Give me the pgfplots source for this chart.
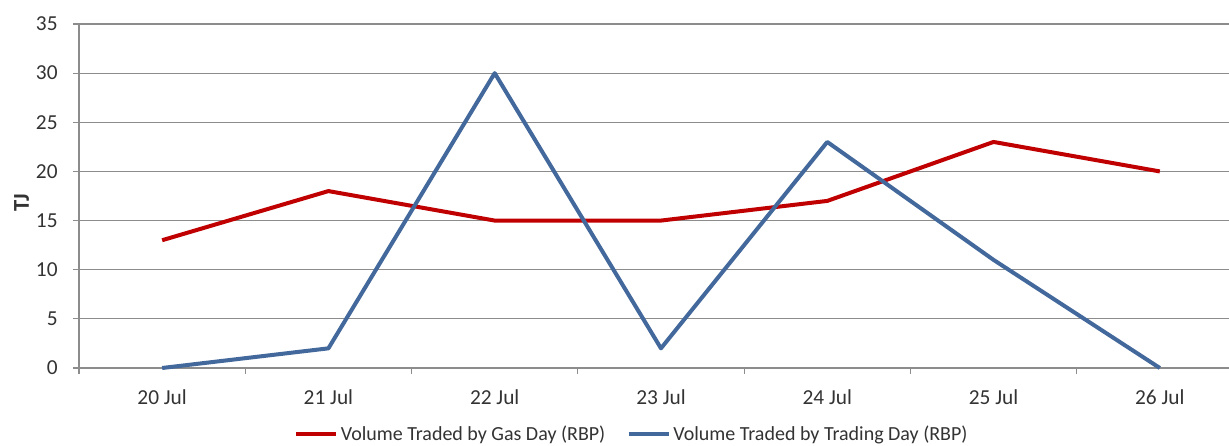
\documentclass[border=0pt]{standalone}
\usepackage{pgfplots}
\pgfplotsset{compat=1.18}
\usepackage{fontspec}
\setmainfont{Carlito}
\definecolor{gasred}{RGB}{192,0,0}
\definecolor{tradeblue}{RGB}{66,104,156}
\definecolor{gridgray}{RGB}{140,140,140}
\begin{document}
\begin{tikzpicture}[x=0.75pt,y=0.75pt]
\begin{axis}[
    at={(0,0)}, anchor=south west,
    scale only axis,
    width=862.5pt, height=258pt,
    xmin=-0.5, xmax=6.416,
    ymin=0, ymax=35,
    ytick={0,5,...,35},
    xtick={0,...,6},
    xticklabels={20 Jul,21 Jul,22 Jul,23 Jul,24 Jul,25 Jul,26 Jul},
    minor xtick={-0.5,0.5,...,5.5},
    axis x line*=bottom, axis y line*=left,
    axis line style={gridgray, line width=0.8pt, -},
    ymajorgrids, major grid style={gridgray, line width=0.8pt},
    major x tick style={draw=none},
    minor x tick style={gridgray, line width=0.8pt},
    major y tick style={gridgray, line width=0.8pt},
    tick align=outside, major tick length=4.5pt, minor tick length=4.5pt,
    ticklabel style={font=\fontsize{16}{18}\selectfont, text=black!80},
    xticklabel style={yshift=-8pt},
    yticklabel style={xshift=-8pt},
    /pgf/number format/assume math mode=true,
    ylabel={\textbf{TJ}},
    ylabel style={font=\fontsize{17}{19}\selectfont, text=black!80, at={(axis description cs:0,0.48)}, anchor=center, yshift=43pt},
    legend style={at={(0.481,-0.192)}, anchor=center, legend columns=2, draw=none,
      font=\fontsize{15}{17}\selectfont, text=black!80,
      /tikz/every even column/.append style={column sep=14pt}},
    legend image code/.code={\draw[#1, line width=3pt] (0pt,0pt) -- (30pt,0pt);},
    clip=false,
]
\addplot[gasred, line width=3pt, line join=round] coordinates {
 (0,13) (1,18) (2,15) (3,15) (4,17) (5,23) (6,20)};
\addplot[tradeblue, line width=3pt, line join=round] coordinates {
 (0,0) (1,2) (2,30) (3,2) (4,23) (5,11) (6,0)};
\legend{Volume Traded by Gas Day (RBP), Volume Traded by Trading Day (RBP)}
\end{axis}
\pgfresetboundingbox
\path[use as bounding box] (-79,-78) rectangle (1150,344+24);
\end{tikzpicture}
\end{document}
